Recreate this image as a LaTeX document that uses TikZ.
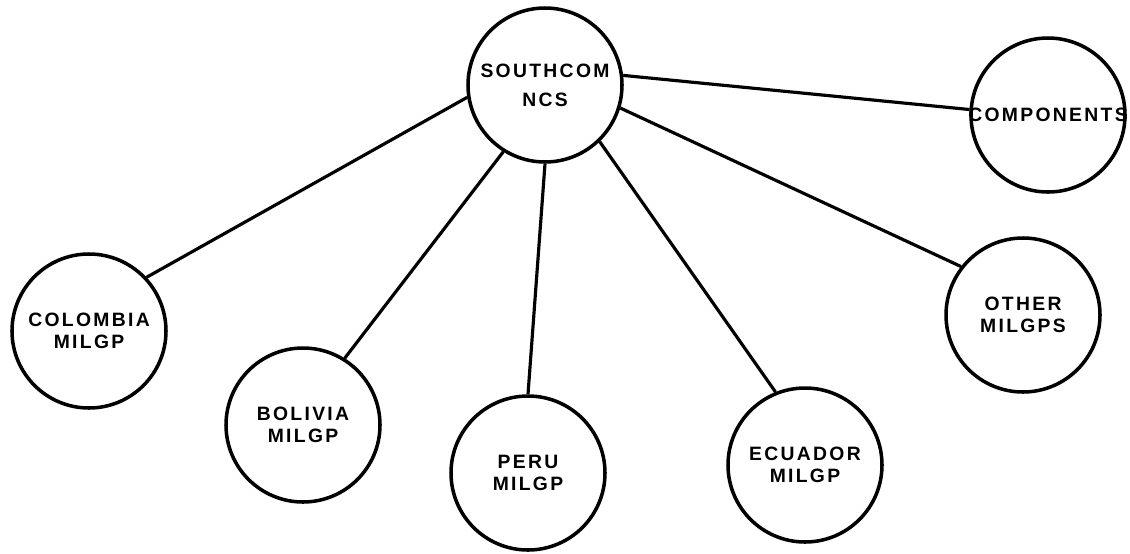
\documentclass[tikz,border=0pt]{standalone}
\usepackage{fontspec}
\newfontfamily\chartfont[LetterSpace=12]{Liberation Sans}
\usepackage{tikz}
\usetikzlibrary{positioning}

\tikzset{
    unit/.style={circle, draw, line width=2pt, minimum size=3.08cm, inner sep=0pt,
        align=center, font=\chartfont\bfseries\fontsize{11}{12.5}\selectfont},
    link/.style={line width=1.8pt}
}

\begin{document}
\begin{tikzpicture}[x=0.2mm, y=-0.2mm]
    \useasboundingbox (0,0) rectangle (1130,553);

    % Headquarters
    \node[unit] (sc) at (545,85) {SOUTHCOM\\[4pt]NCS};
    \node[unit] (comp) at (1048,115) {\makebox[0pt]{COMPONENTS}};

    % Military groups
    \node[unit] (colombia) at (89,331) {COLOMBIA\\MILGP};
    \node[unit] (bolivia) at (303,425) {BOLIVIA\\MILGP};
    \node[unit] (peru) at (528,473) {PERU\\MILGP};
    \node[unit] (ecuador) at (805,465) {ECUADOR\\MILGP};
    \node[unit] (other) at (1023,315) {OTHER\\MILGPS};

    % Links
    \draw[link] (sc.189) -- (colombia.43);
    \draw[link] (sc.238) -- (bolivia.58);
    \draw[link] (sc.270) -- (peru.90);
    \draw[link] (sc.314) -- (ecuador.112);
    \draw[link] (sc.343) -- (other.142);
    \draw[link] (sc.7) -- (comp.176);
\end{tikzpicture}
\end{document}
